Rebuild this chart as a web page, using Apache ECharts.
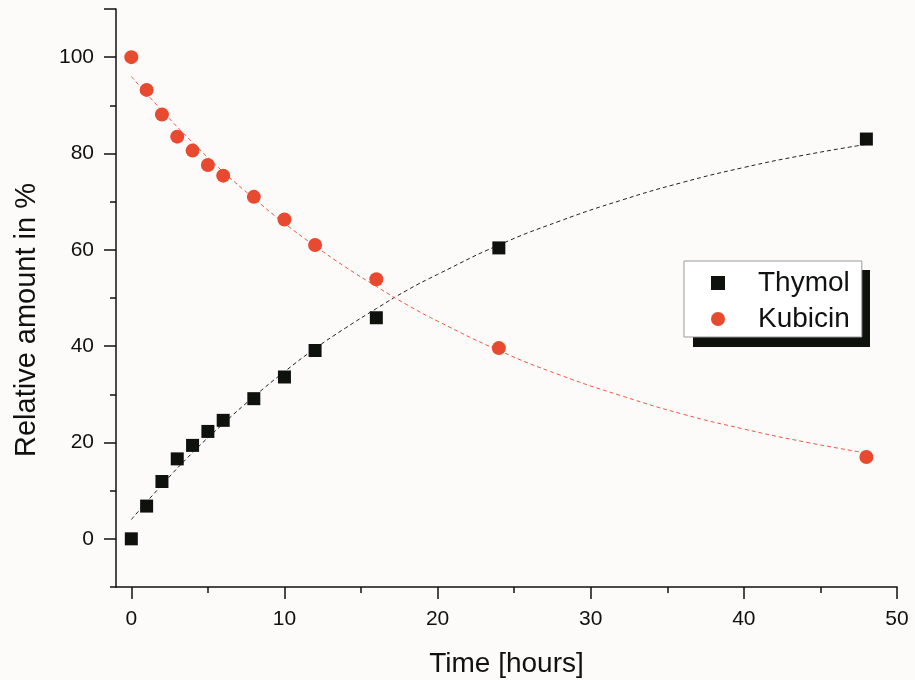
<!DOCTYPE html>
<html>
<head>
<meta charset="utf-8">
<script src="https://cdn.jsdelivr.net/npm/echarts@6/dist/echarts.min.js"></script>
<style>
html,body{margin:0;padding:0;background:#fcfbfa;}
#chart{width:915px;height:680px;}
</style>
</head>
<body>
<div id="chart"></div>
<script>
const hours = [0, 1, 2, 3, 4, 5, 6, 8, 10, 12, 16, 24, 48];
const thymol = [0, 6.8, 11.9, 16.6, 19.4, 22.3, 24.6, 29.1, 33.6, 39.1, 45.9, 60.4, 83.0];
const kubicin = [100, 93.2, 88.1, 83.5, 80.6, 77.6, 75.4, 71.0, 66.3, 61.0, 53.9, 39.6, 17.0];
const fitHours = [0, 2, 4, 6, 8, 10, 12, 14, 16, 18, 20, 24, 28, 32, 36, 40, 44, 48];
const thymolFit = [4.0, 11.2, 17.9, 23.9, 29.5, 34.7, 39.5, 43.8, 47.8, 51.6, 54.9, 61.0, 66.0, 70.3, 74.0, 77.1, 79.7, 81.9];
const kubicinFit = [96.0, 88.9, 82.3, 76.2, 70.7, 65.5, 60.8, 56.4, 52.4, 48.6, 45.2, 39.1, 34.0, 29.7, 25.9, 22.8, 20.1, 17.8];
const xTickLabels = [0, 10, 20, 30, 40, 50];
const xMinorTicks = [5, 15, 25, 35, 45];
const yTickLabels = [0, 20, 40, 60, 80, 100];
const yMajorTicks = [0, 20, 40, 60, 80, 100, 110];
const yMinorTicks = [-10, 10, 30, 50, 70, 90];

const FONT = "'Liberation Sans', Arial, sans-serif";
const zip = (xs, ys) => xs.map((x, i) => [x, ys[i]]);

const chart = echarts.init(document.getElementById('chart'));
const tickStyle = { color: '#111', width: 1.5 };
chart.setOption({
  animation: false,
  backgroundColor: '#fcfbfa',
  grid: { left: 116, right: 18, top: 9, bottom: 93, containLabel: false, outerBoundsMode: 'none' },
  xAxis: [
    {
      type: 'value', min: -1, max: 50,
      name: 'Time [hours]', nameLocation: 'middle', nameGap: 63,
      nameTextStyle: { fontFamily: FONT, fontSize: 28, color: '#111' },
      axisLine: { show: true, onZero: false, lineStyle: tickStyle },
      axisTick: { show: true, inside: false, length: 12, customValues: xTickLabels, lineStyle: tickStyle },
      axisLabel: { customValues: xTickLabels, fontFamily: FONT, fontSize: 21, color: '#111', margin: 22 },
      splitLine: { show: false }
    },
    {
      type: 'value', min: -1, max: 50, position: 'bottom',
      axisLine: { show: false, onZero: false },
      axisTick: { show: true, inside: false, length: 6, customValues: xMinorTicks, lineStyle: tickStyle },
      axisLabel: { show: false },
      splitLine: { show: false }
    }
  ],
  yAxis: [
    {
      type: 'value', min: -10, max: 110,
      name: 'Relative amount in %', nameLocation: 'middle', nameGap: 75,
      nameTextStyle: { fontFamily: FONT, fontSize: 29, color: '#111', padding: [0, 44, 0, 0] },
      axisLine: { show: true, onZero: false, lineStyle: tickStyle },
      axisTick: { show: true, inside: false, length: 12, customValues: yMajorTicks, lineStyle: tickStyle },
      axisLabel: { customValues: yTickLabels, fontFamily: FONT, fontSize: 21, color: '#111', margin: 22 },
      splitLine: { show: false }
    },
    {
      type: 'value', min: -10, max: 110, position: 'left',
      axisLine: { show: false, onZero: false },
      axisTick: { show: true, inside: false, length: 6, customValues: yMinorTicks, lineStyle: tickStyle },
      axisLabel: { show: false },
      splitLine: { show: false }
    }
  ],
  graphic: [
    {
      type: 'rect', z: 5, silent: true,
      shape: { x: 693, y: 270, width: 177, height: 77 },
      style: { fill: '#0f110d' }
    }
  ],
  legend: {
    left: 684, top: 261, orient: 'vertical', z: 10,
    data: ['Thymol', 'Kubicin'],
    itemWidth: 14, itemHeight: 14, itemGap: 8,
    padding: [8, 12, 4, 27],
    backgroundColor: '#ffffff', borderColor: '#999', borderWidth: 1,
    textStyle: { fontFamily: FONT, fontSize: 28, color: '#111', padding: [0, 0, 0, 28] }
  },
  tooltip: { show: false },
  series: [
    {
      name: 'Thymol fit', type: 'line', data: zip(fitHours, thymolFit),
      smooth: true, showSymbol: false, silent: true, z: 1,
      lineStyle: { color: '#222', width: 1, type: [4, 3] }
    },
    {
      name: 'Kubicin fit', type: 'line', data: zip(fitHours, kubicinFit),
      smooth: true, showSymbol: false, silent: true, z: 1,
      lineStyle: { color: '#ea5a44', width: 1, type: [4, 3] }
    },
    {
      name: 'Thymol', type: 'scatter', data: zip(hours, thymol),
      symbol: 'rect', symbolSize: 13, z: 3,
      itemStyle: { color: '#0f110d', opacity: 1 }
    },
    {
      name: 'Kubicin', type: 'scatter', data: zip(hours, kubicin),
      symbol: 'circle', symbolSize: 14, z: 3,
      itemStyle: { color: '#e84a30', opacity: 1 }
    }
  ]
});
</script>
</body>
</html>
